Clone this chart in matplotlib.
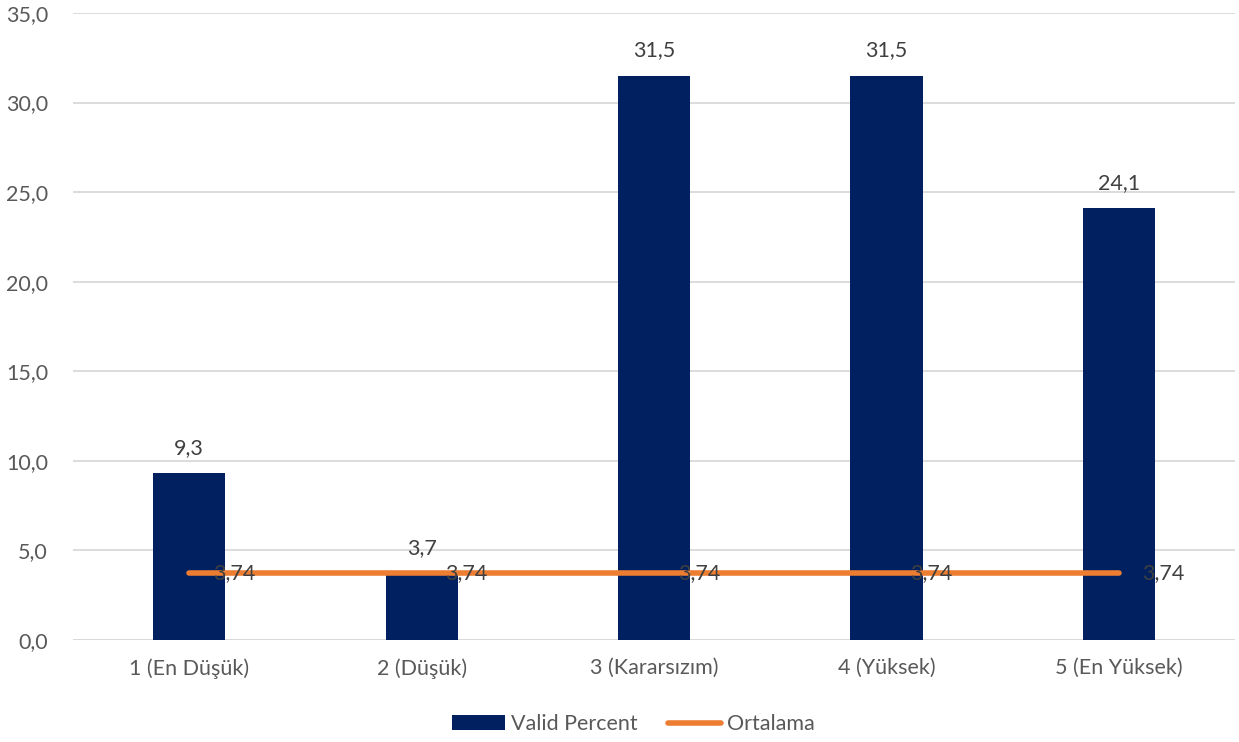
import matplotlib.pyplot as plt
from matplotlib.lines import Line2D
from matplotlib.patches import Patch
import numpy as np

categories = ['1 (En Düşük)', '2 (Düşük)', '3 (Kararsızım)', '4 (Yüksek)', '5 (En Yüksek)']
valid_percent = [9.3, 3.7, 31.5, 31.5, 24.1]
ortalama = [3.74, 3.74, 3.74, 3.74, 3.74]
y_ticks = [0, 5, 10, 15, 20, 25, 30, 35]

NAVY = '#002060'
ORANGE = '#ED7D31'
GREY = '#595959'


def fmt(v, d):
  return f'{v:.{d}f}'.replace('.', ',')


def main():
  plt.rcParams['font.family'] = ['Lato', 'DejaVu Sans']
  fig = plt.figure(figsize=(12.39, 7.42), dpi=100)
  ax = fig.add_axes([0.0589, 0.1375, 0.938, 0.845])

  x = np.arange(len(categories))
  ax.bar(x, valid_percent, width=0.31, color=NAVY, zorder=2)
  ax.plot(x, ortalama, color=ORANGE, lw=4, solid_capstyle='round', zorder=3)

  for xi, v in zip(x, valid_percent):
    ax.annotate(fmt(v, 1), (xi, v), xytext=(0, 11), textcoords='offset points',
                ha='center', va='bottom', fontsize=15.5, color='#404040')
  for xi, v in zip(x, ortalama):
    ax.annotate(fmt(v, 2), (xi, v), xytext=(17, 0), textcoords='offset points',
                ha='left', va='center', fontsize=15.5, color='#404040', zorder=4)

  ax.set_xlim(-0.5, len(categories) - 0.5)
  ax.set_ylim(0, 35)
  ax.set_yticks(y_ticks)
  ax.set_yticklabels([fmt(t, 1) for t in y_ticks])
  ax.set_xticks(x)
  ax.set_xticklabels(categories)
  ax.tick_params(axis='both', length=0, labelsize=15.5, colors=GREY)
  ax.tick_params(axis='x', pad=13)
  ax.tick_params(axis='y', pad=18)
  ax.grid(axis='y', color='#D9D9D9', lw=1.3, zorder=0)
  for s in ax.spines.values():
    s.set_visible(False)
  ax.axhline(0, color='#D9D9D9', lw=1.3, zorder=1)

  handles = [Patch(facecolor=NAVY), Line2D([0], [0], color=ORANGE, lw=4, solid_capstyle='round')]
  fig.legend(handles, ['Valid Percent', 'Ortalama'], loc='center', bbox_to_anchor=(0.511, 0.024),
             ncol=2, frameon=False, fontsize=15.5, labelcolor=GREY, handlelength=2.5,
             handletextpad=0.25, columnspacing=1.4)

  fig.savefig('out.png', dpi=100)


if __name__ == "__main__":
  main()
